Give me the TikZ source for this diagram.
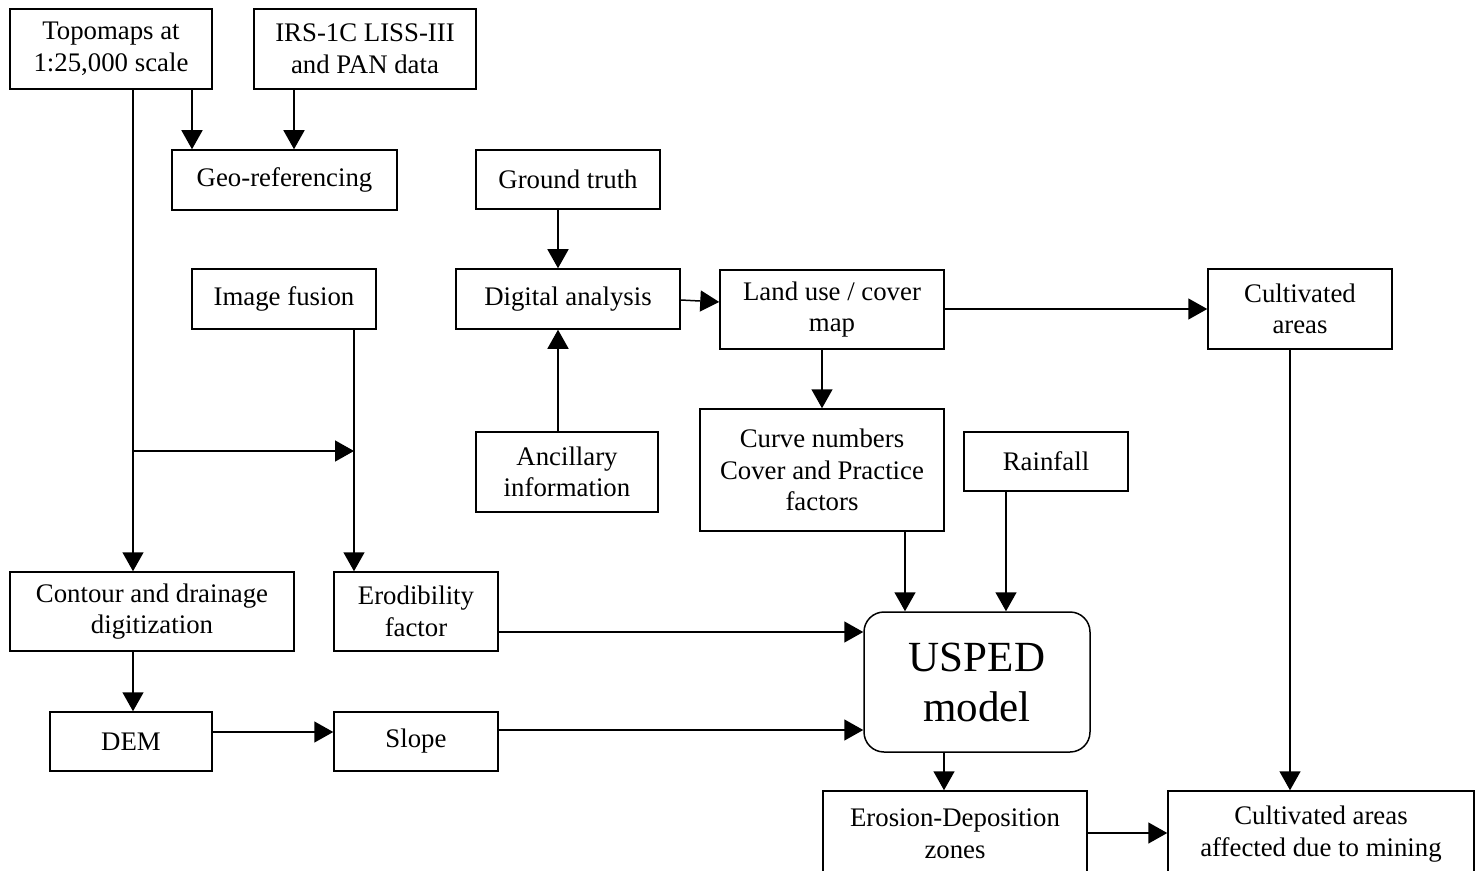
\documentclass[tikz,border=0pt]{standalone}
\usepackage{fontspec}
\setmainfont{Liberation Serif}
\usetikzlibrary{arrows.meta}
\tikzset{
  box/.style={draw, line width=0.75pt, rectangle, inner sep=0pt, align=center,
    font=\fontsize{13.4}{15.8}\selectfont},
  bigbox/.style={draw, line width=0.75pt, rectangle, rounded corners=10pt, inner sep=0pt, align=center,
    font=\fontsize{21.5}{25}\selectfont},
  arr/.style={line width=0.75pt, -{Triangle[length=9.5pt,width=10.5pt]}},
  ln/.style={line width=0.75pt}
}
\begin{document}
\begin{tikzpicture}[x=0.5pt,y=-0.5pt]
\useasboundingbox (0,0) rectangle (1481,871);
\clip (0,0) rectangle (1481,871);
% nodes
\node[box, minimum width=101pt, minimum height=40pt] (topo) at (111,49) {Topomaps at\\1:25,000 scale};
\node[box, minimum width=111pt, minimum height=40pt] (irs) at (365,49) {IRS-1C LISS-III\\and PAN data};
\node[box, minimum width=112.5pt, minimum height=30pt] (geo) at (284.5,180) {Geo-referencing};
\node[box, minimum width=92pt, minimum height=29.5pt] (ground) at (568,179.5) {Ground truth};
\node[box, minimum width=92pt, minimum height=30pt] (fusion) at (284,299) {Image fusion};
\node[box, minimum width=112pt, minimum height=30pt] (dig) at (568,299) {Digital analysis};
\node[box, minimum width=112pt, minimum height=39.5pt] (land) at (832,309.5) {Land use / cover\\map};
\node[box, minimum width=92pt, minimum height=40pt] (cult) at (1300,309) {Cultivated\\areas};
\node[box, minimum width=91pt, minimum height=40pt] (anc) at (567,472) {Ancillary\\information};
\node[box, minimum width=122pt, minimum height=61pt] (curve) at (822,470) {Curve numbers\\Cover and Practice\\factors};
\node[box, minimum width=82pt, minimum height=29.5pt] (rain) at (1046,461.5) {Rainfall};
\node[box, minimum width=142pt, minimum height=39.5pt] (contour) at (152,611.5) {Contour and drainage\\digitization};
\node[box, minimum width=82pt, minimum height=39.5pt] (erod) at (416,611.5) {Erodibility\\factor};
\node[bigbox, minimum width=113pt, minimum height=70pt] (usped) at (977,682) {USPED\\model};
\node[box, minimum width=81pt, minimum height=29.5pt] (dem) at (131,741.5) {DEM};
\node[box, minimum width=82pt, minimum height=29.5pt] (slope) at (416,741.5) {Slope};
\node[box, minimum width=132pt, minimum height=43pt] (eros) at (955,834) {Erosion-Deposition\\zones};
\node[box, minimum width=153pt, minimum height=43pt] (aff) at (1321,834) {Cultivated areas\\affected due to mining};
% helper coordinates
\coordinate (xa) at (192,0);
\coordinate (xb) at (294,0);
\coordinate (xc) at (133,0);
\coordinate (xd) at (354,0);
\coordinate (xe) at (558,0);
\coordinate (xf) at (822,0);
\coordinate (xg) at (905,0);
\coordinate (xh) at (1006,0);
\coordinate (xi) at (944,0);
\coordinate (xj) at (1290,0);
\coordinate (ya) at (0,300);
\coordinate (yb) at (0,302);
\coordinate (yc) at (0,309);
\coordinate (yd) at (0,632);
\coordinate (ye) at (0,730);
\coordinate (yf) at (0,732);
\coordinate (yg) at (0,833);
\coordinate (j1) at (133,451);
\coordinate (j2) at (354,451);
% connectors
\draw[arr] (topo.south -| xa) -- (geo.north -| xa);
\draw[arr] (irs.south -| xb) -- (geo.north -| xb);
\draw[arr] (topo.south -| xc) -- (contour.north -| xc);
\draw[arr] (j1) -- (j2);
\draw[arr] (fusion.south -| xd) -- (erod.north -| xd);
\draw[arr] (ground.south -| xe) -- (dig.north -| xe);
\draw[arr] (anc.north -| xe) -- (dig.south -| xe);
\draw[arr] (dig.east |- ya) -- (land.west |- yb);
\draw[arr] (land.east |- yc) -- (cult.west |- yc);
\draw[arr] (land.south -| xf) -- (curve.north -| xf);
\draw[arr] (curve.south -| xg) -- (usped.north -| xg);
\draw[arr] (rain.south -| xh) -- (usped.north -| xh);
\draw[arr] (erod.east |- yd) -- (usped.west |- yd);
\draw[arr] (slope.east |- ye) -- (usped.west |- ye);
\draw[arr] (contour.south -| xc) -- (dem.north -| xc);
\draw[arr] (dem.east |- yf) -- (slope.west |- yf);
\draw[arr] (usped.south -| xi) -- (eros.north -| xi);
\draw[arr] (cult.south -| xj) -- (aff.north -| xj);
\draw[arr] (eros.east |- yg) -- (aff.west |- yg);
\end{tikzpicture}
\end{document}
